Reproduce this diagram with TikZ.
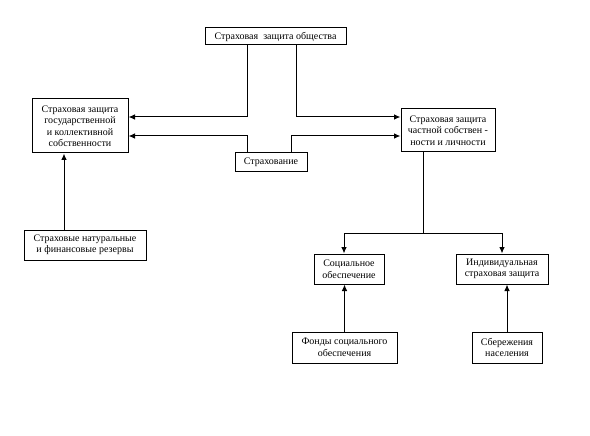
\documentclass[tikz,border=0pt]{standalone}
\usepackage{fontspec}
\setmainfont{Liberation Serif}
\usetikzlibrary{arrows.meta}
\begin{document}
\begin{tikzpicture}[x=1pt,y=-1pt,
 box/.style={draw,line width=1pt,align=center,inner sep=1pt,font=\fontsize{10}{11.5}\selectfont},
 arr/.style={line width=1pt,-{Latex[length=6.5pt,width=5.5pt]}},
 ln/.style={line width=1pt}
]
 \useasboundingbox (0,0) rectangle (590,436);
 \node[box,minimum width=141,minimum height=17] (top) at (275.5,36.5) {Страховая\ \ защита общества};
 \node[box,minimum width=96,minimum height=54] (gos) at (80,126) {Страховая защита\\государственной\\и коллективной\\собственности};
 \node[box,minimum width=94,minimum height=43] (chast) at (448,130.5) {Страховая защита\\частной собствен -\\ности и личности};
 \node[box,minimum width=72,minimum height=19] (strah) at (271,162.5) {Страхование};
 \node[box,minimum width=122,minimum height=30] (rez) at (85,245) {Страховые натуральные\\и финансовые резервы};
 \node[box,minimum width=70,minimum height=30] (soc) at (349,269) {Социальное\\обеспечение};
 \node[box,minimum width=92,minimum height=30] (ind) at (502,269) {Индивидуальная\\страховая защита};
 \node[box,minimum width=105,minimum height=31] (fond) at (344.5,347.5) {Фонды социального\\обеспечения};
 \node[box,minimum width=70,minimum height=31] (sber) at (507,347.5) {Сбережения\\населения};
 \coordinate (split) at (423,233);
 \draw[arr] ([xshift=-28.5]top.south) |- ([yshift=9]gos.east);
 \draw[arr] ([xshift=20.5]top.south) |- ([yshift=13.5]chast.west);
 \draw[arr] ([xshift=-24]strah.north) |- ([yshift=-10]gos.east);
 \draw[arr] ([xshift=20]strah.north) |- ([yshift=-5.5]chast.west);
 \draw[arr] ([xshift=-21]rez.north) -- ([xshift=-21]rez.north |- gos.south);
 \draw[ln] (chast.south -| split) -- (split);
 \draw[arr] (split) -| ([xshift=-5]soc.north);
 \draw[arr] (split) -| (ind.north);
 \draw[arr] (fond.north) -- (fond.north |- soc.south);
 \draw[arr] (sber.north) -- (sber.north |- ind.south);
\end{tikzpicture}
\end{document}
